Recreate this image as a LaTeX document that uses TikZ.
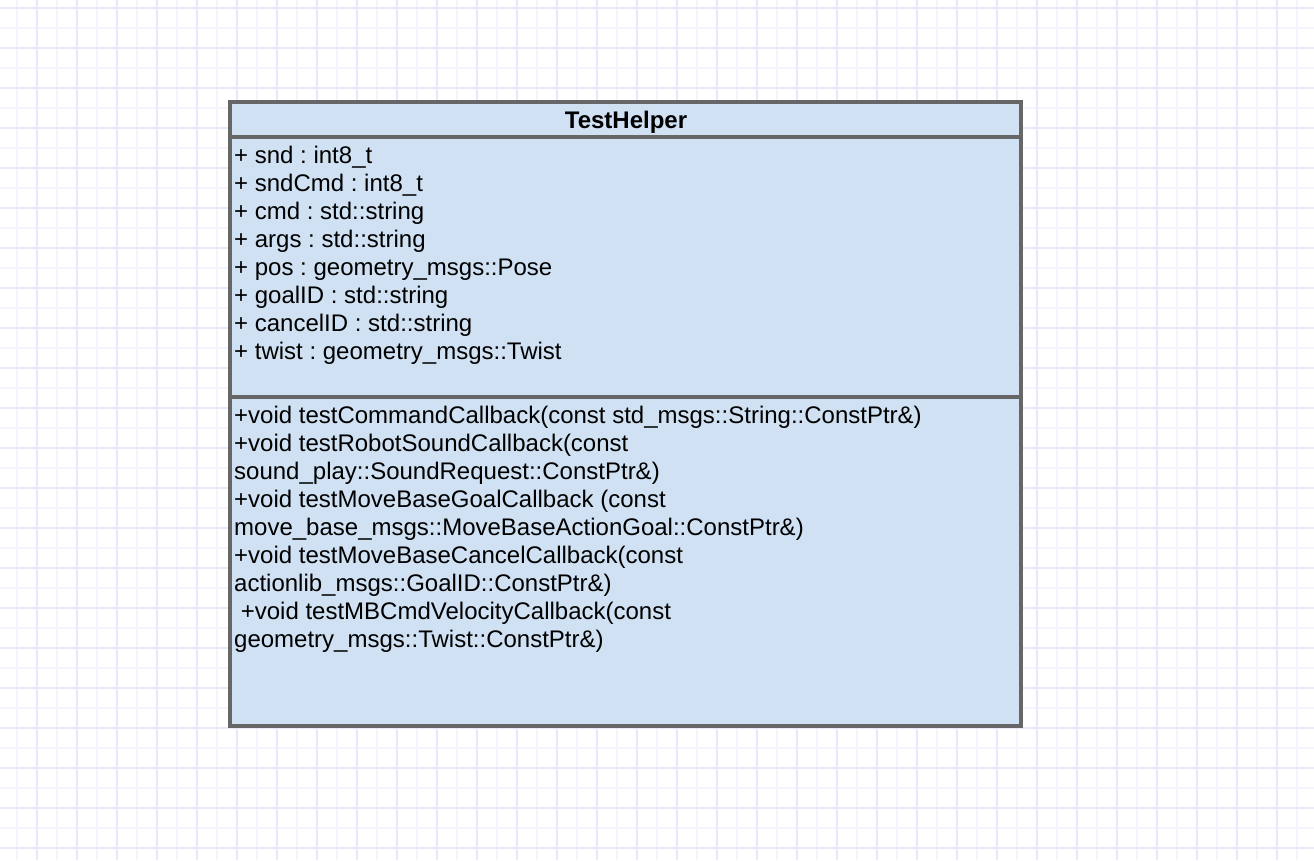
\documentclass[tikz,border=0pt]{standalone}
\usepackage{fontspec}
\setmainfont{Liberation Sans}
\frenchspacing
\definecolor{gridminor}{HTML}{F4F4FE}
\definecolor{gridmajor}{HTML}{E8E8FD}
\definecolor{classfill}{HTML}{CFE1F2}
\definecolor{classline}{HTML}{666666}
\begin{document}
\begin{tikzpicture}[x=1pt,y=-1pt,
  compart/.style={draw=classline,fill=classfill,line width=3.5pt,inner sep=0pt,outer sep=0pt},
  member/.style={anchor=base west,inner sep=0pt,font=\fontsize{24}{28}\selectfont},
  titletext/.style={anchor=base,inner sep=0pt,font=\fontsize{24}{28}\selectfont\bfseries}]
\useasboundingbox (0,0) rectangle (1314,860);
\fill[white] (0,0) rectangle (1314,860);
\foreach \x in {17,37,...,1317} {\draw[gridminor,line width=1.3pt] (\x,0) -- (\x,860);}
\foreach \y in {8,28,...,868} {\draw[gridminor,line width=1.3pt] (0,\y) -- (1314,\y);}
\foreach \x in {37,77,...,1317} {\draw[gridmajor,line width=1.3pt] (\x,0) -- (\x,860);}
\foreach \y in {8,48,...,868} {\draw[gridmajor,line width=1.3pt] (0,\y) -- (1314,\y);}
% class box
\path[compart] (230,102) rectangle (1021,726);
\node[compart,fill=none,minimum width=791pt,minimum height=35pt,anchor=north west] (head) at (230,102) {};
\node[compart,fill=none,minimum width=791pt,minimum height=260pt,anchor=north west] (attrs) at (230,137) {};
\node[compart,fill=none,minimum width=791pt,minimum height=329pt,anchor=north west] (ops) at (230,397) {};
\node[titletext] (title) at (626,128) {TestHelper};
\node[member] (a1) at (234,163) {+ snd : int8\_t};
\node[member] (a2) at (234,191) {+ sndCmd : int8\_t};
\node[member] (a3) at (234,219) {+ cmd : std::string};
\node[member] (a4) at (234,247) {+ args : std::string};
\node[member] (a5) at (234,275) {+ pos : geometry\_msgs::Pose};
\node[member] (a6) at (234,303) {+ goalID : std::string};
\node[member] (a7) at (234,331) {+ cancelID : std::string};
\node[member] (a8) at (234,359) {+ twist : geometry\_msgs::Twist};
\node[member] (m1) at (234,423) {+void testCommandCallback(const std\_msgs::String::ConstPtr\&)};
\node[member] (m2) at (234,451) {+void testRobotSoundCallback(const};
\node[member] (m3) at (234,479) {sound\_play::SoundRequest::ConstPtr\&)};
\node[member] (m4) at (234,507) {+void testMoveBaseGoalCallback (const};
\node[member] (m5) at (234,535) {move\_base\_msgs::MoveBaseActionGoal::ConstPtr\&)};
\node[member] (m6) at (234,563) {+void testMoveBaseCancelCallback(const};
\node[member] (m7) at (234,591) {actionlib\_msgs::GoalID::ConstPtr\&)};
\node[member] (m8) at (234,619) {\ +void testMBCmdVelocityCallback(const};
\node[member] (m9) at (234,647) {geometry\_msgs::Twist::ConstPtr\&)};
\end{tikzpicture}
\end{document}
